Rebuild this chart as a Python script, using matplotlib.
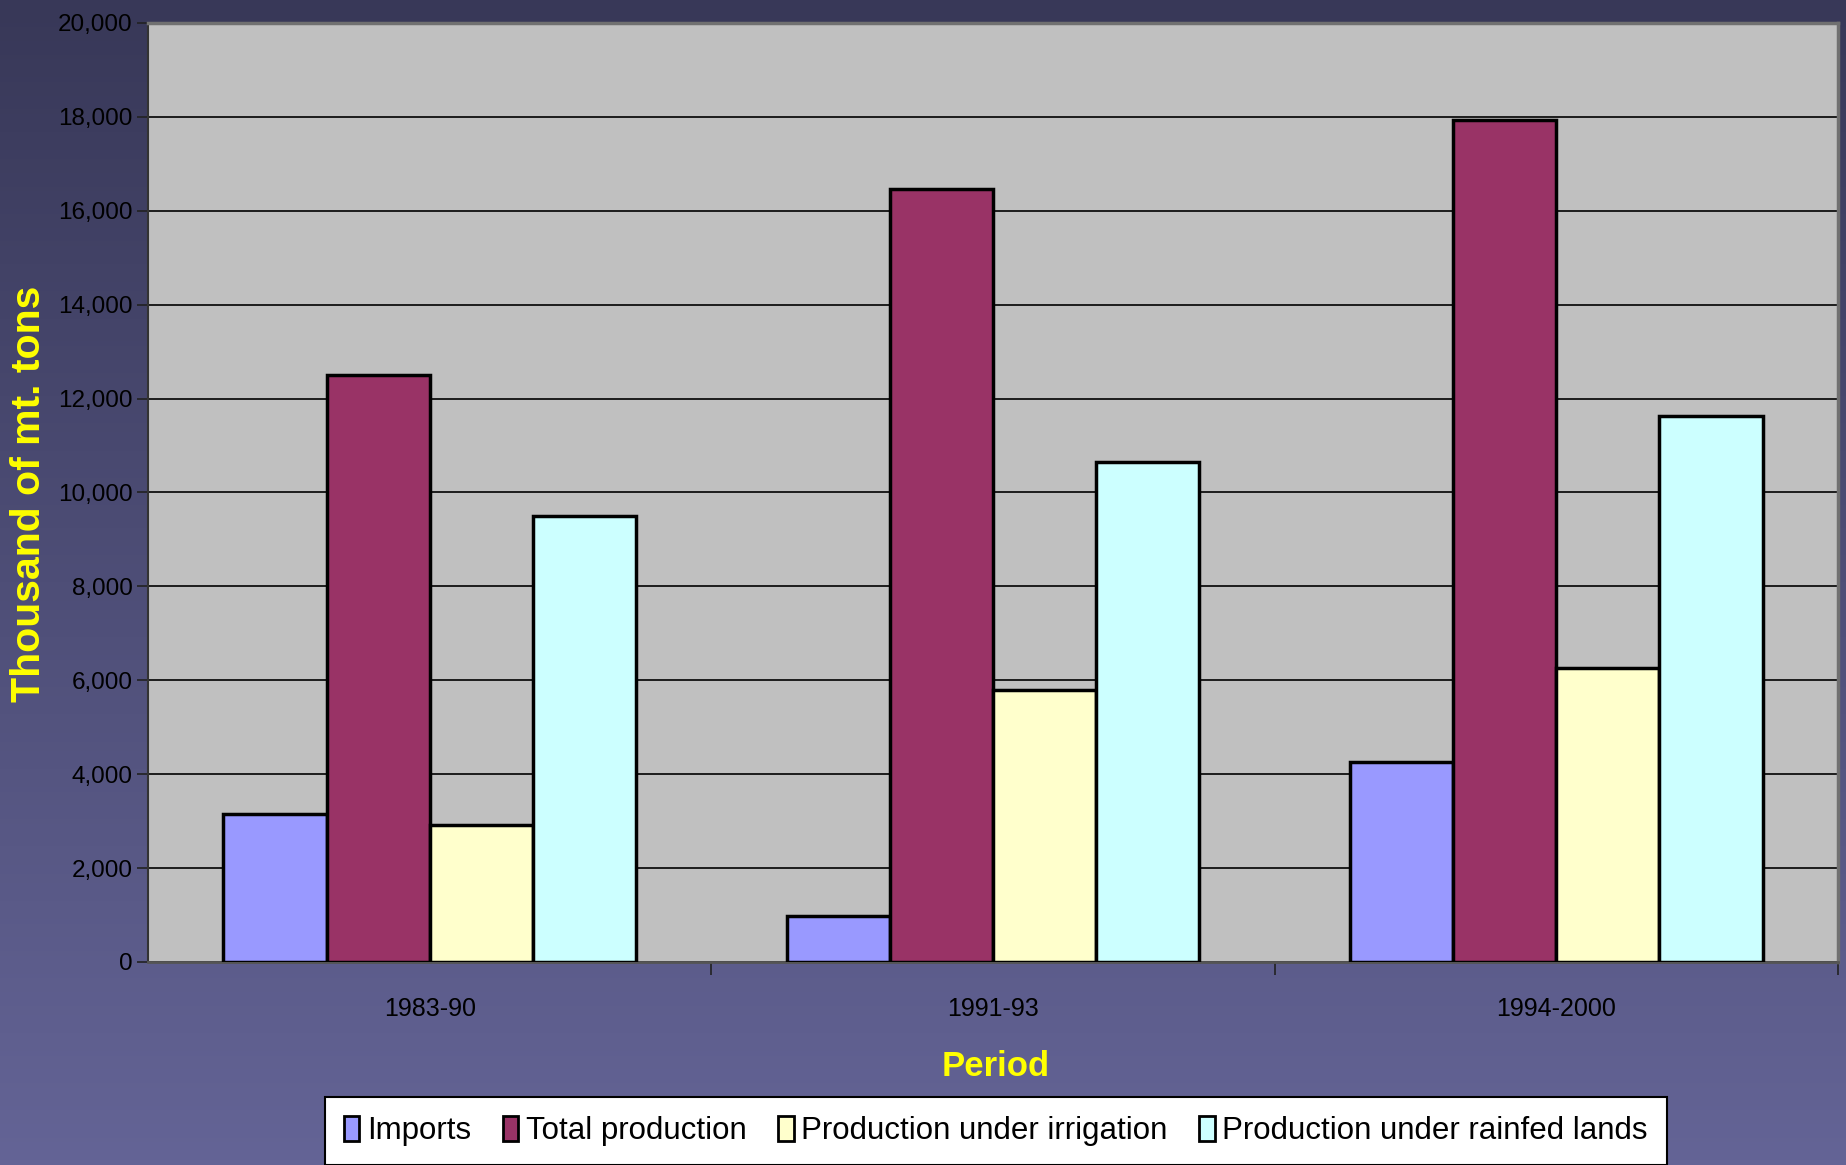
import numpy as np
import matplotlib.pyplot as plt
from matplotlib.colors import LinearSegmentedColormap

# ------------------------------------------------------------------ data
periods = ['1983-90', '1991-93', '1994-2000']
series_names = ['Imports', 'Total production',
                'Production under irrigation', 'Production under rainfed lands']
imports = [3160, 975, 4250]
total_production = [12500, 16460, 17930]
irrigation = [2910, 5800, 6270]
rainfed = [9500, 10660, 11640]
yticks = [0, 2000, 4000, 6000, 8000, 10000, 12000, 14000, 16000, 18000, 20000]

bar_colors = ['#9999FF', '#993366', '#FFFFCC', '#CCFFFF']
font = ['Liberation Sans', 'DejaVu Sans']

# ------------------------------------------------------------------ figure
fig = plt.figure(figsize=(18.46, 11.65), dpi=100)

# slide-style vertical gradient behind everything
bg = fig.add_axes([0, 0, 1, 1], zorder=-10)
grad = np.linspace(0, 1, 256).reshape(-1, 1)
cmap = LinearSegmentedColormap.from_list('slide', ['#383858', '#646496'])
bg.imshow(grad, aspect='auto', cmap=cmap, extent=[0, 1, 0, 1], origin='upper')
bg.set_axis_off()

ax = fig.add_axes([148 / 1846, 1 - 962 / 1165, 1690 / 1846, 939 / 1165])
ax.set_facecolor('#C0C0C0')

x = np.arange(len(periods))
width = 0.183
all_series = [imports, total_production, irrigation, rainfed]
for i, (vals, col, name) in enumerate(zip(all_series, bar_colors, series_names)):
    ax.bar(x + (i - 1.5) * width, vals, width, color=col,
           edgecolor='black', linewidth=2.5, label=name, zorder=3)

ax.set_xlim(-0.5, 2.5)
ax.set_ylim(0, 20000)
ax.set_yticks(yticks)
ax.set_yticklabels([f'{v:,}' for v in yticks], family=font, fontsize=17.5)
ax.set_xticks(x)
ax.set_xticklabels(periods, family=font, fontsize=18)
ax.set_xticks([0.5, 1.5, 2.5], minor=True)
ax.tick_params(axis='x', which='major', length=0, pad=25)
ax.tick_params(axis='x', which='minor', length=9, width=1.2, color='#222222')
ax.tick_params(axis='y', length=8, width=1.2, color='#222222', pad=3)

ax.grid(axis='y', color='black', linewidth=1.2, zorder=1)
ax.set_axisbelow(True)

for side in ['top', 'right']:
    ax.spines[side].set_color('#707070')
    ax.spines[side].set_linewidth(2.5)
ax.spines['left'].set_color('#333333')
ax.spines['left'].set_linewidth(1.5)
ax.spines['bottom'].set_color('#555555')
ax.spines['bottom'].set_linewidth(2)

# axis titles
fig.text(29 / 1846, 1 - 494 / 1165, 'Thousand of mt. tons', rotation=90,
         ha='center', va='center', family=font, fontweight='bold',
         fontsize=29.5, color='#FFFF00')
fig.text(996 / 1846, 1 - 1067 / 1165, 'Period', ha='center', va='center',
         family=font, fontweight='bold', fontsize=25, color='#FFFF00')

leg = fig.legend(loc='upper left', bbox_to_anchor=(325 / 1846, 1 - 1097 / 1165),
                 ncol=4, prop={'family': font, 'size': 22.5},
                 frameon=True, fancybox=False, edgecolor='black',
                 facecolor='white', framealpha=1,
                 handlelength=0.5, handleheight=0.85, handletextpad=0.25,
                 columnspacing=1.0, borderpad=0.6, borderaxespad=0)
leg.get_frame().set_linewidth(1.5)
for h in leg.legend_handles:
    h.set_linewidth(2)

fig.savefig('out.png', dpi=100)
